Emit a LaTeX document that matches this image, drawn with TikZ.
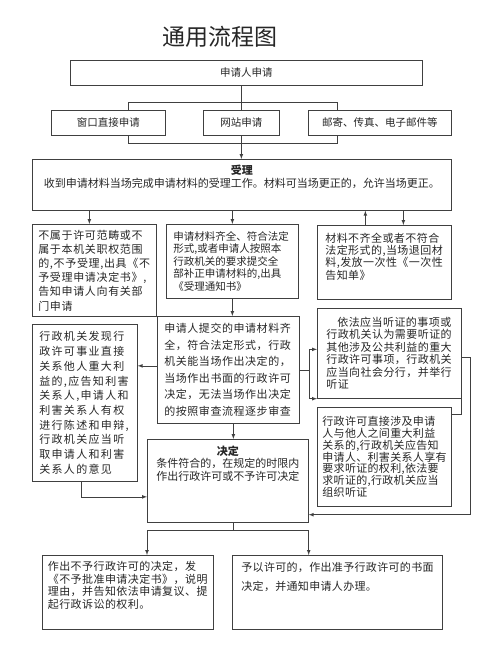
\documentclass[tikz,border=0pt]{standalone}
\usepackage{fontspec}
\setmainfont{Noto Sans CJK SC}
\usetikzlibrary{arrows}

\begin{document}
\begin{tikzpicture}[x=1pt,y=-1pt,>=latex,
  conn/.style={draw=black!75, line width=0.7pt},
  box/.style={conn, anchor=north west, inner sep=0pt, text=black!85},
  way/.style={box, align=center, minimum height=25pt, font=\fontsize{10.5}{12}\selectfont}]
  \useasboundingbox (0,0) rectangle (492,652);
  % title
  \node[text=black!85, font=\fontsize{23}{26}\selectfont] (title) at (220,37) {通用流程图};
  % application
  \node[way, minimum width=352pt] (apply)  at (70,60)   {申请人申请};
  \node[way, minimum width=114pt] (window) at (51,110)  {窗口直接申请};
  \node[way, minimum width=76pt]  (web)    at (203,110) {网站申请};
  \node[way, minimum width=143pt] (mail)   at (308,110) {邮寄、传真、电子邮件等};
  % acceptance
  \node[box, align=center, minimum width=419pt, text width=401pt, text height=15pt, text depth=36pt,
        font=\fontsize{11}{13}\selectfont] (accept) at (32,159)
        {\textbf{受理}\\收到申请材料当场完成申请材料的受理工作。材料可当场更正的，允许当场更正。};
  \node[box, align=left, minimum width=124pt, minimum height=92pt, text width=112pt,
        font=\fontsize{11}{14.2}\selectfont\addfontfeature{LetterSpace=6}] (reject) at (32,224)
        {不属于许可范畴或不\\属于本机关职权范围\\的,不予受理,出具《不\\予受理申请决定书》,\\告知申请人向有关部\\门申请};
  \node[box, align=left, minimum width=132pt, minimum height=74pt, text width=118pt,
        font=\fontsize{10.5}{12.5}\selectfont] (notice) at (166,224)
        {申请材料齐全、符合法定\\形式,或者申请人按照本\\行政机关的要求提交全\\部补正申请材料的,出具\\《受理通知书》};
  \node[box, align=left, minimum width=134pt, text width=118pt, text height=17pt, text depth=57pt,
        font=\fontsize{11}{12.3}\selectfont\addfontfeature{LetterSpace=4}] (back) at (317,225)
        {材料不齐全或者不符合\\法定形式的,当场退回材\\料,发放一次性《一次性\\告知单》};
  % review
  \node[box, align=left, minimum width=142pt, minimum height=107pt, text width=128pt,
        font=\fontsize{11}{16.6}\selectfont\addfontfeature{LetterSpace=5}] (review) at (157,316)
        {申请人提交的申请材料齐\\全，符合法定形式，行政\\机关能当场作出决定的，\\当场作出书面的行政许可\\决定，无法当场作出决定\\的按照审查流程逐步审查};
  \node[box, align=left, minimum width=105pt, minimum height=157pt, text width=91pt,
        font=\fontsize{11}{14.7}\selectfont\addfontfeature{LetterSpace=12}] (inform) at (32,324)
        {行政机关发现行\\政许可事业直接\\关系他人重大利\\益的,应告知利害\\关系人,申请人和\\利害关系人有权\\进行陈述和申辩,\\行政机关应当听\\取申请人和利害\\关系人的意见};
  \node[box, align=left, minimum width=144pt, minimum height=90pt, text width=126pt,
        font=\fontsize{11}{12.4}\selectfont\addfontfeature{LetterSpace=4}] (hearing) at (317,308)
        {\hspace*{11pt}依法应当听证的事项或\\行政机关认为需要听证的\\其他涉及公共利益的重大\\行政许可事项，行政机关\\应当向社会分行，并举行\\听证};
  \node[box, align=left, minimum width=134pt, minimum height=99pt, text width=124pt,
        font=\fontsize{11}{11.9}\selectfont\addfontfeature{LetterSpace=3}] (notify) at (317,407)
        {行政许可直接涉及申请\\人与他人之间重大利益\\关系的,行政机关应告知\\申请人、利害关系人享有\\要求听证的权利,依法要\\求听证的,行政机关应当\\组织听证};
  % decision
  \node[box, align=center, minimum width=161pt, text width=147pt, text height=16pt, text depth=67pt,
        font=\fontsize{11}{12.5}\selectfont] (decide) at (147,439)
        {\textbf{决定}\\条件符合的，在规定的时限内\\作出行政许可或不予许可决定};
  \node[box, align=left, minimum width=171pt, text width=160pt, text height=15pt, text depth=59pt,
        font=\fontsize{11}{12.7}\selectfont\addfontfeature{LetterSpace=4}] (deny) at (42,555)
        {作出不予行政许可的决定，发\\《不予批准申请决定书》，说明\\理由，并告知依法申请复议、提\\起行政诉讼的权利。};
  \node[box, align=left, minimum width=210pt, text width=192pt, text height=16pt, text depth=58pt,
        font=\fontsize{11}{19}\selectfont\addfontfeature{LetterSpace=3}] (grant) at (232,555)
        {予以许可的，作出准予行政许可的书面\\决定，并通知申请人办理。};
  % connectors
  \coordinate (topl) at (128,102);
  \coordinate (topr) at (337,102);
  \coordinate (botl) at (128,143);
  \coordinate (botr) at (337,143);
  \draw[conn] (apply.south -| web.north) -- (web.north);
  \draw[conn] (topl |- window.north) -- (topl) -- (topr) -- (topr |- mail.north);
  \draw[conn] (botl |- window.south) -- (botl) -- (botr) -- (botr |- mail.south);
  \draw[conn,->] (web.south) -- (web.south |- accept.north);
  \draw[conn,->] ([xshift=-5pt]reject.north |- accept.south) -- ([xshift=-5pt]reject.north);
  \draw[conn,->] (notice.north |- accept.south) -- (notice.north);
  \draw[conn,->] ([xshift=-19pt]back.north) -- ([xshift=-19pt]back.north |- accept.south);
  \draw[conn,->] ([xshift=19pt]back.north |- accept.south) -- ([xshift=19pt]back.north);
  \draw[conn,->] (notice.south) -- (notice.south |- review.north);
  \draw[conn,->] ([yshift=4pt]review.west) -- ([yshift=4pt]review.west -| inform.east);
  \draw[conn] (review.east) -- ++(10,0) coordinate (fork);
  \draw[conn,->] (fork) |- ([yshift=4pt]hearing.west);
  \draw[conn,->] (fork) |- (hearing.south west);
  \draw[conn,->] ([yshift=-4pt]hearing.east) -- ++(9,0) |- ([yshift=8pt]decide.south east);
  \draw[conn] ([yshift=-7pt]notify.north east) -| (hearing.south east);
  \draw[conn,->] ([xshift=-4pt]inform.south) |- ([yshift=-16pt]decide.west);
  \draw[conn,->] ([xshift=5pt]review.south) -- ([xshift=5pt]review.south |- decide.north);
  \draw[conn] ([xshift=5pt]decide.south) -- ++(0,8) coordinate (split);
  \draw[conn,->] (split) -| (decide.south west |- deny.north);
  \draw[conn,->] (split) -| (decide.south east |- grant.north);
\end{tikzpicture}
\end{document}
